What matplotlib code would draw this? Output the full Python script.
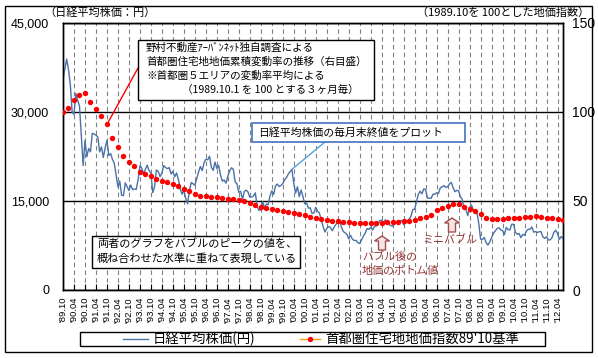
import numpy as np
import matplotlib
matplotlib.use("Agg")
import matplotlib.pyplot as plt
from matplotlib.patches import Rectangle, FancyArrow
from matplotlib.lines import Line2D
from matplotlib.transforms import IdentityTransform

plt.rcParams['font.family'] = ['Noto Sans CJK JP', 'DejaVu Sans']

# ---------------- data ----------------
# Nikkei 225 month-end close, 1989.10 - 2012.07 (yen)
nikkei = [
    35549, 37269, 38916,
    37189, 34592, 29980, 29585, 33131, 31940, 31036, 25978, 20984, 25194, 22455, 23849,
    23293, 26409, 26292, 26111, 25790, 23291, 24121, 22336, 23916, 25222, 22687, 22984,
    22023, 21339, 19346, 17391, 18348, 15952, 15910, 18061, 17399, 16767, 17684, 16925,
    17024, 16953, 18591, 20919, 20552, 19590, 20380, 21027, 20106, 19704, 16408, 17417,
    20229, 19997, 19112, 19725, 20974, 20644, 20449, 20629, 19564, 19990, 19076, 19723,
    18650, 17053, 16140, 16807, 15437, 14517, 16678, 18117, 17913, 17655, 18744, 19868,
    20813, 20125, 21407, 22041, 21956, 22531, 20693, 20167, 21556, 20466, 21020, 19361,
    18330, 18557, 18003, 19151, 20069, 20605, 20331, 18229, 17888, 16459, 16636, 15259,
    16628, 16831, 16527, 15641, 15671, 15830, 16379, 14108, 13406, 13565, 14883, 13842,
    14499, 14368, 15837, 16702, 16112, 17530, 17862, 17437, 17606, 17942, 18558, 18934,
    19540, 19960, 20337, 17974, 16332, 17411, 15727, 16861, 15747, 14539, 14649, 13786,
    13843, 12884, 12999, 13934, 13262, 12969, 11861, 10714, 9775, 10366, 10697, 10543,
    9998, 10587, 11025, 11493, 11764, 10622, 9877, 9619, 9383, 8640, 9216, 8579,
    8340, 8363, 7973, 7831, 8425, 9083, 9563, 10344, 10219, 10560, 10101, 10677,
    10783, 11042, 11715, 11762, 11236, 11858, 11326, 11082, 10824, 10771, 11069, 11489,
    11388, 11741, 11669, 11009, 11277, 11584, 11900, 12414, 13574, 13607, 14872, 16111,
    16650, 16205, 17060, 16906, 15467, 15505, 15457, 16141, 16128, 16399, 16274, 17226,
    17383, 17604, 17288, 17400, 17876, 18138, 17248, 16569, 16786, 16737, 15681, 15308,
    13592, 13603, 12526, 13850, 14339, 13481, 13377, 13073, 11260, 8577, 8512, 8860,
    7994, 7568, 8110, 8828, 9523, 9958, 10357, 10493, 10133, 10035, 9346, 10546,
    10198, 10126, 11090, 11057, 9769, 9383, 9537, 8824, 9369, 9202, 9937, 10229,
    10238, 10624, 9755, 9850, 9694, 9816, 9833, 8955, 8700, 8988, 8435, 8455,
    8803, 9723, 10084, 9521, 8543, 9007, 8695,
]

# Tokyo-area residential land price index (1989.10 = 100), every 3 months
land_index = [
    100, 102.4, 107, 109.7, 110.6, 105.5, 101.7, 97.9, 93, 85.6, 80.5, 75.2,
    72, 69.5, 66.1, 64.9, 63.8, 62.5, 61.5, 60.4, 59.5, 58.7, 57, 55.7,
    54, 52.8, 52.7, 52.3, 52.1, 51.7, 51.3, 51.1, 50.7, 50.2, 49, 47.9,
    46.6, 45.9, 45.3, 44.9, 44.3, 43.8, 43.4, 42.6, 42, 41.1,
    40.5, 40, 39.2, 38.8, 38.8, 38.4, 38.1, 37.7, 37.7, 37.5, 37.5, 37.7,
    37.9, 38.3, 38.3, 38.4, 38.6, 39, 39.6, 40.2, 41.1, 42,
    44.8, 45.8, 47.2, 48.1, 48.1, 46.8, 45.5, 44.3, 42.6, 40.7, 39.8, 40,
    40, 40.2, 40.5, 40.7, 40.9, 41.1, 41.3, 40.9, 40.7, 40.2, 40, 39.6,
]

tick_labels = [
    "'89.10", "'90.04", "'90.10", "'91.04", "'91.10", "'92.04", "'92.10", "'93.04",
    "'93.10", "'94.04", "'94.10", "'95.04", "'95.10", "'96.04", "'96.10", "'97.04",
    "'97.10", "'98.04", "'98.10", "'99.04", "'99.10", "'00.04", "'00.10", "'01.04",
    "'01.10", "'02.04", "'02.10", "'03.04", "'03.10", "'04.04", "'04.10", "'05.04",
    "'05.10", "'06.04", "'06.10", "'07.04", "'07.10", "'08.04", "'08.10", "'09.04",
    "'09.10", "'10.04", "'10.10", "'11.04", "'11.10", "'12.04",
]
left_ticks = [0, 15000, 30000, 45000]
left_tick_labels = ["0", "15,000", "30,000", "45,000"]
right_ticks = [0, 50, 100, 150]
right_tick_labels = ["0", "50", "100", "150"]

series1_name = "日経平均株価(円)"
series2_name = "首都圏住宅地地価指数89'10基準"

# ---------------- figure ----------------
W, H = 598, 358
fig = plt.figure(figsize=(W / 100, H / 100), dpi=100)
fig.patch.set_facecolor('white')

def fr(x, y):
    """pixel (from top-left) -> figure fraction"""
    return x / W, 1 - y / H

narrow = ['Liberation Sans Narrow', 'Liberation Sans']

ax = fig.add_axes([63 / W, 1 - 290 / H, 500 / W, 267 / H])
ax2 = ax.twinx()

n = len(nikkei)
xm = np.arange(n)
xq = np.arange(len(land_index)) * 3

blue = '#4A72A8'
ax.plot(xm, nikkei, color=blue, lw=1.0, zorder=3)
ax2.plot(xq, land_index, linestyle='none', marker='o', ms=3.9, mew=0,
         mfc='#FF0000', zorder=4)

ax.set_xlim(0, n - 1)
ax.set_ylim(0, 45000)
ax2.set_ylim(0, 150)

ax.set_xticks(np.arange(len(tick_labels)) * 6)
ax.set_xticklabels(tick_labels, rotation=90, family=narrow, fontsize=6.8)
ax.tick_params(axis='x', direction='in', length=4, pad=5, width=0.8)

ax.set_yticks(left_ticks)
ax.set_yticklabels(left_tick_labels, family='Liberation Sans', fontsize=9)
ax.tick_params(axis='y', length=0, pad=10)
ax2.set_yticks(right_ticks)
ax2.set_yticklabels(right_tick_labels, family=narrow, fontsize=10)
ax2.tick_params(axis='y', length=0, pad=6.5)

ax.xaxis.grid(True, linestyle=(0, (4, 3)), color='#808080', lw=0.8)
ax.yaxis.grid(True, linestyle='-', color='black', lw=1.0)
ax.set_axisbelow(True)
for a in (ax, ax2):
    for s in a.spines.values():
        s.set_color('black')
        s.set_linewidth(1.0)

# axis titles
fig.text(*fr(44, 13), '（日経平均株価：円）', fontsize=8.0, va='center', ha='left')
fig.text(*fr(589, 13), '（1989.10を 100とした地価指数）', fontsize=8.0, va='center', ha='right')

# outer border
fig.add_artist(Rectangle((5, H - 352), 587, 346, transform=IdentityTransform(),
                         fill=False, ec='black', lw=1.0))

# ---- annotation box 1 ----
fig.add_artist(Rectangle((138, H - 100), 236, 60, transform=IdentityTransform(),
                         fc='white', ec='black', lw=1.0, zorder=5))
box1 = ['野村不動産ｱｰﾊﾞﾝﾈｯﾄ独自調査による',
        '首都圏住宅地地価累積変動率の推移（右目盛）',
        '※首都圏５エリアの変動率平均による']
for i, t in enumerate(box1):
    fig.text(*fr(146, 48 + 14 * i), t, fontsize=7.6, va='center', ha='left', zorder=6)
fig.text(*fr(182, 90), '（1989.10.1 を 100 とする３ヶ月毎）', fontsize=7.6,
         va='center', ha='left', zorder=6)
ax2.annotate('', xy=(xq[8], land_index[8]), xycoords='data',
             xytext=fr(138, 68), textcoords='figure fraction',
             arrowprops=dict(arrowstyle='-', color='#FF0000', lw=1.0,
                             shrinkA=0, shrinkB=2))

# ---- annotation box 2 ----
fig.add_artist(Rectangle((252, H - 142), 213, 19, transform=IdentityTransform(),
                         fc='white', ec='#4472C4', lw=1.2, zorder=5))
fig.text(*fr(258, 132.5), '日経平均株価の毎月末終値をプロット', fontsize=7.8,
         va='center', ha='left', zorder=6)
pk = int(np.argmax(nikkei[120:132])) + 120
ax.annotate('', xy=(pk, nikkei[pk]), xycoords='data',
            xytext=fr(325, 142), textcoords='figure fraction',
            arrowprops=dict(arrowstyle='-', color='#4FA3E0', lw=1.0,
                            shrinkA=0, shrinkB=0))

# ---- annotation box 3 ----
fig.add_artist(Rectangle((92, H - 268), 208, 32, transform=IdentityTransform(),
                         fc='white', ec='black', lw=1.0, zorder=5))
fig.text(*fr(97, 244), '両者のグラフをバブルのピークの値を、', fontsize=8,
         va='center', ha='left', zorder=6)
fig.text(*fr(97, 259), '概ね合わせた水準に重ねて表現している', fontsize=8,
         va='center', ha='left', zorder=6)

# ---- hollow arrows & red notes ----
dark_red = '#953735'
for cx, ytip, ybot in [(382, 236, 250), (452, 218, 232)]:
    fig.add_artist(FancyArrow(cx, H - ybot, 0, (ybot - ytip), width=7,
                              head_width=15, head_length=5,
                              length_includes_head=True,
                              transform=IdentityTransform(),
                              fc='#F7E4E4', ec='#A05050', lw=1.0, zorder=6))
fig.text(*fr(362, 257), 'バブル後の', fontsize=7.9, color=dark_red, va='center', ha='left')
fig.text(*fr(362, 271), '地価のボトム値', fontsize=7.9, color=dark_red, va='center', ha='left')
fig.text(*fr(422, 241), 'ミニバブル', fontsize=7.9, color=dark_red, va='center', ha='left')

# ---- legend ----
fig.add_artist(Rectangle((80, H - 346), 465, 14, transform=IdentityTransform(),
                         fc='white', ec='black', lw=1.0))
ly = H - 339
fig.add_artist(Line2D([123, 148], [ly, ly], transform=IdentityTransform(),
                      color=blue, lw=1.0))
fig.text(*fr(153, 339), series1_name, fontsize=9.6, va='center', ha='left')
fig.add_artist(Line2D([300, 320], [ly, ly], transform=IdentityTransform(),
                      color='#FF9900', lw=1.0))
fig.add_artist(Line2D([310], [ly], transform=IdentityTransform(), marker='o',
                      ms=3.9, mew=0, mfc='#FF0000', linestyle='none'))
fig.text(*fr(325, 339), series2_name, fontsize=9.6, va='center', ha='left')

fig.savefig('out.png', dpi=100, facecolor='white')
